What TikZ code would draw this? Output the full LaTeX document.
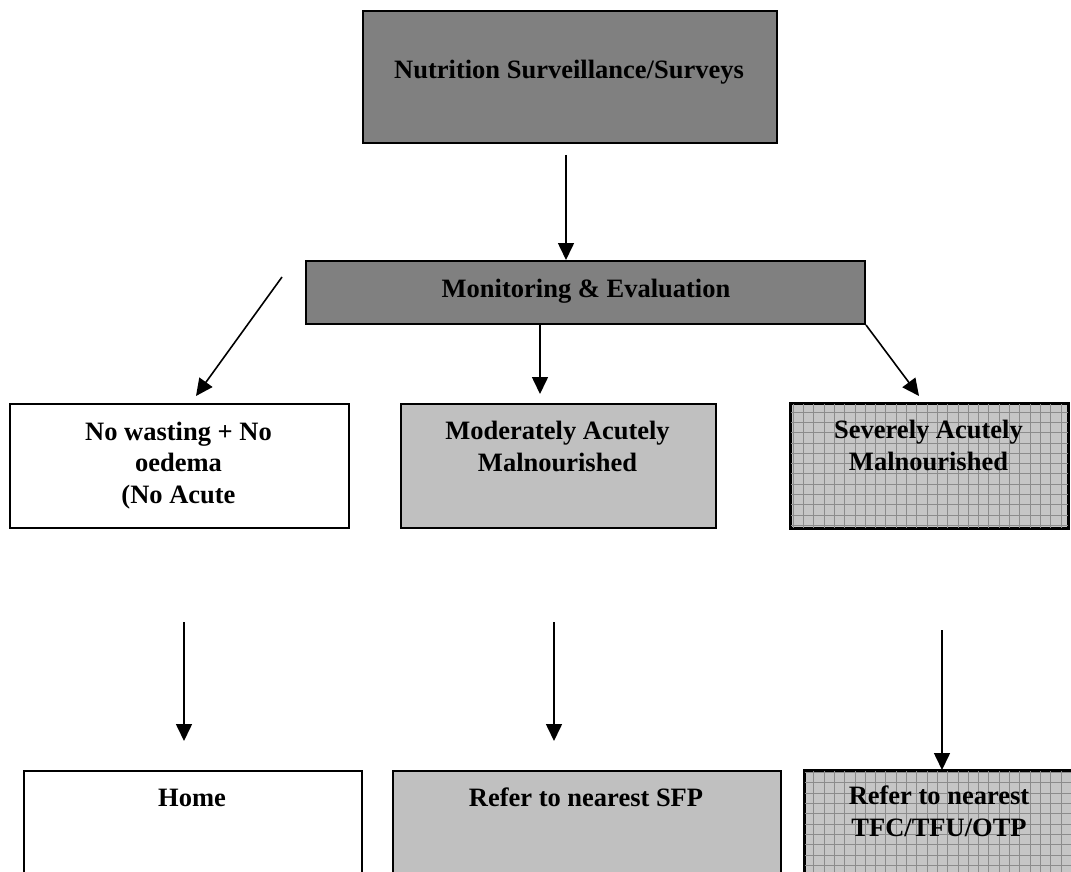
\documentclass[tikz,border=0pt]{standalone}
\usepackage{fontspec}
\setmainfont{Liberation Serif}
\usetikzlibrary{arrows.meta}
\definecolor{darkfill}{HTML}{808080}
\definecolor{lightfill}{HTML}{C0C0C0}
\definecolor{gridfill}{HTML}{C6C6C6}
\definecolor{gridline}{HTML}{8C8C8C}
\tikzset{
  box/.style={draw=black, line width=2pt, inner sep=0pt, anchor=north west},
  lbl/.style={font=\fontsize{26.5}{31.5}\selectfont\bfseries, align=center, anchor=base, inner sep=0pt},
  arr/.style={line width=1.6pt, -{Triangle[length=17pt,width=16pt]}},
  gridlines/.style={draw=gridline, line width=0.7pt},
}
\begin{document}
\begin{tikzpicture}[x=1pt,y=-1pt]
\useasboundingbox (0,0) rectangle (1071,872);
\clip (0,0) rectangle (1071,872);

% boxes
\node[box, fill=darkfill, minimum width=414pt, minimum height=132pt] (nss) at (362,10) {};
\node[box, fill=darkfill, minimum width=559pt, minimum height=63pt] (me) at (305,260) {};
\node[box, fill=white, minimum width=339pt, minimum height=124pt] (nw) at (9,403) {};
\node[box, fill=lightfill, minimum width=315pt, minimum height=124pt] (mam) at (400,403) {};
\node[box, fill=gridfill, minimum width=277pt, minimum height=124pt] (sam) at (790,403) {};
\node[box, fill=white, minimum width=338pt, minimum height=140pt] (home) at (23,770) {};
\node[box, fill=lightfill, minimum width=388pt, minimum height=140pt] (sfp) at (392,770) {};
\node[box, fill=gridfill, minimum width=272pt, minimum height=140pt] (tfc) at (804,770) {};

% grid patterns
\begin{scope}
  \clip (sam.north west) rectangle (sam.south east);
  \draw[gridlines, step=10.3pt] (sam.north west) grid (sam.south east);
\end{scope}
\draw[line width=2pt] (sam.north west) rectangle (sam.south east);
\begin{scope}
  \clip (tfc.north west) rectangle (tfc.south east);
  \draw[gridlines, step=10.3pt] (tfc.north west) grid (tfc.south east);
\end{scope}
\draw[line width=2pt] (tfc.north west) rectangle (tfc.south east);

% labels (base anchor = baseline of the last line)
\node[lbl] (tnss) at (569,79) {Nutrition Surveillance/Surveys};
\node[lbl] (tme) at (586,297) {Monitoring \& Evaluation};
\node[lbl] (tnw) at (178.5,503) {No wasting + No\\oedema\\(No Acute};
\node[lbl] (tmam) at (557.5,471) {Moderately Acutely\\Malnourished};
\node[lbl] (tsam) at (928.5,470) {Severely Acutely\\Malnourished};
\node[lbl] (thome) at (192,806) {Home};
\node[lbl] (tsfp) at (586,806) {Refer to nearest SFP};
\node[lbl] (ttfc) at (939,836) {Refer to nearest\\TFC/TFU/OTP};

% connectors
\coordinate (a1) at (566,155);
\draw[arr] (a1) -- (a1 |- me.north);
\coordinate (a2) at (282,277);
\coordinate (a2e) at (196,396);
\draw[arr] (a2) -- (a2e);
\coordinate (a3) at (540,0);
\draw[arr, shorten >=9pt] (a3 |- me.south) -- (a3 |- mam.north);
\coordinate (a4e) at (919,396);
\draw[arr] (me.south east) -- (a4e);
\coordinate (a5) at (184,622);
\coordinate (a5e) at (184,741);
\draw[arr] (a5) -- (a5e);
\coordinate (a6) at (554,622);
\coordinate (a6e) at (554,741);
\draw[arr] (a6) -- (a6e);
\coordinate (a7) at (942,630);
\draw[arr] (a7) -- (a7 |- tfc.north);
\end{tikzpicture}
\end{document}
